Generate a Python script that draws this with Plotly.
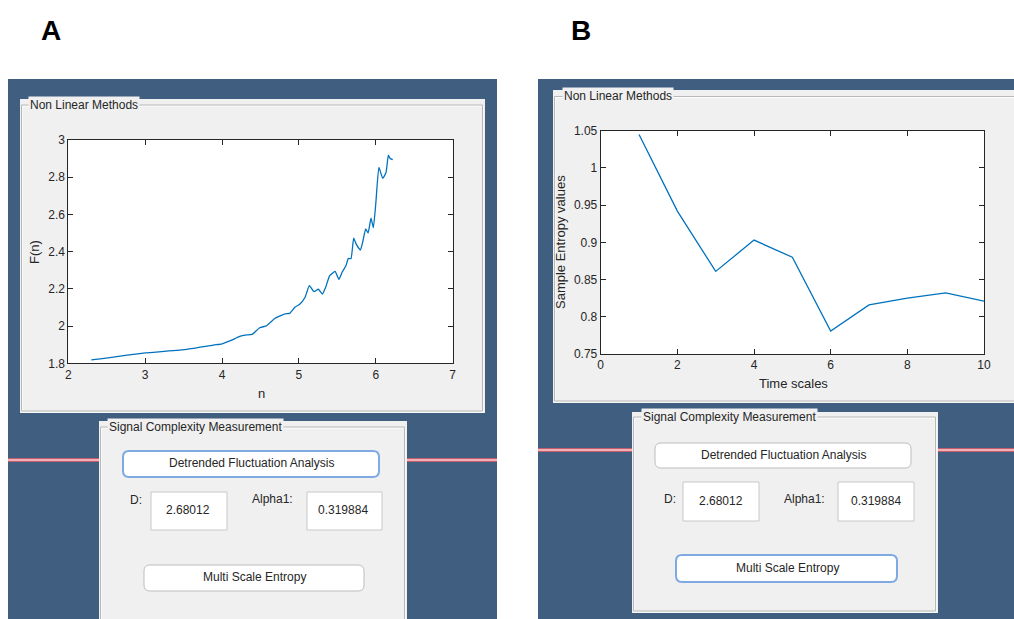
import plotly.graph_objects as go

W, H = 1014, 619

# ---------------- data ----------------
dfa_n = [2.30, 2.98, 3.54, 3.89, 4.00, 4.10, 4.23, 4.30, 4.39, 4.49, 4.58, 4.69,
         4.82, 4.88, 4.95, 5.01, 5.08, 5.135, 5.196, 5.252, 5.305, 5.35, 5.40,
         5.47, 5.52, 5.564, 5.61, 5.643, 5.677, 5.712, 5.75, 5.80, 5.83, 5.868,
         5.90, 5.937, 5.968, 6.00, 6.04, 6.09, 6.133, 6.163, 6.185, 6.22]
dfa_F = [1.818, 1.855, 1.875, 1.898, 1.905, 1.920, 1.945, 1.952, 1.955, 1.991,
         2.002, 2.042, 2.066, 2.068, 2.102, 2.117, 2.155, 2.217, 2.185, 2.198,
         2.172, 2.212, 2.271, 2.294, 2.251, 2.292, 2.323, 2.364, 2.362, 2.472,
         2.436, 2.409, 2.453, 2.522, 2.500, 2.580, 2.529, 2.660, 2.853, 2.794,
         2.825, 2.919, 2.901, 2.895]

mse_scale = [1, 2, 3, 4, 5, 6, 7, 8, 9, 10]
mse_value = [1.045, 0.942, 0.861, 0.903, 0.880, 0.781, 0.816, 0.825, 0.832, 0.821]

xticks_a = [2, 3, 4, 5, 6, 7]
yticks_a = [1.8, 2.0, 2.2, 2.4, 2.6, 2.8, 3.0]
yticklabels_a = ["1.8", "2", "2.2", "2.4", "2.6", "2.8", "3"]
xticks_b = [0, 2, 4, 6, 8, 10]
yticks_b = [0.75, 0.8, 0.85, 0.9, 0.95, 1.0, 1.05]
yticklabels_b = ["0.75", "0.8", "0.85", "0.9", "0.95", "1", "1.05"]

d_value = "2.68012"
alpha1_value = "0.319884"

FONT = "Liberation Sans, Arial, Helvetica, sans-serif"
TXT = "#262626"
DARK_BLUE = "#3f5e80"
PANEL = "#f0f0f0"
LINE_BLUE = "#0072BD"


def px(x):
    return x / W


def py(y):
    return 1 - y / H


shapes = []
annotations = []


def rect(x0, y0, x1, y1, fill=None, line=None, lw=1):
    shapes.append(dict(type="rect", xref="paper", yref="paper",
                       x0=px(x0), x1=px(x1), y0=py(y1), y1=py(y0),
                       fillcolor=fill if fill else "rgba(0,0,0,0)",
                       line=dict(color=line if line else "rgba(0,0,0,0)", width=lw if line else 0),
                       layer="below"))


def rrect(x0, y0, x1, y1, r, fill, line, lw):
    rx, ry = r / W, r / H
    X0, X1, Y0, Y1 = px(x0), px(x1), py(y1), py(y0)
    path = (f"M {X0+rx},{Y0} L {X1-rx},{Y0} Q {X1},{Y0} {X1},{Y0+ry} "
            f"L {X1},{Y1-ry} Q {X1},{Y1} {X1-rx},{Y1} L {X0+rx},{Y1} "
            f"Q {X0},{Y1} {X0},{Y1-ry} L {X0},{Y0+ry} Q {X0},{Y0} {X0+rx},{Y0} Z")
    shapes.append(dict(type="path", xref="paper", yref="paper", path=path,
                       fillcolor=fill, line=dict(color=line, width=lw), layer="below"))


def hline(x0, x1, y, color, lw):
    shapes.append(dict(type="line", xref="paper", yref="paper",
                       x0=px(x0), x1=px(x1), y0=py(y), y1=py(y),
                       line=dict(color=color, width=lw), layer="below"))


def text(x, y, s, size=12, xanchor="center", color=TXT, bg=None, angle=0, bold=False, family=FONT):
    annotations.append(dict(xref="paper", yref="paper", x=px(x), y=py(y), text=f"<b>{s}</b>" if bold else s,
                            showarrow=False, xanchor=xanchor, yanchor="middle",
                            font=dict(family=family, size=size, color=color),
                            bgcolor=bg, borderpad=1, textangle=angle))


def panel(x0, y0, x1, y1, ly0, title, tx):
    rect(x0, y0, x1, y1, fill=PANEL)
    rect(x0 + 2, ly0 + 1, x1 - 2, y1 - 1, line="#ffffff", lw=1)
    rect(x0 + 1.5, ly0, x1 - 2.5, y1 - 2, line="#b8b8b8", lw=1)
    text(tx, ly0, title, size=12, xanchor="left", bg=PANEL)


# ------------- background GUI -------------
rect(8, 79, 497, 619, fill=DARK_BLUE)
rect(538, 79, 1014, 619, fill=DARK_BLUE)

# red guide lines
hline(8, 497, 460, "#e8606a", 3.5)
hline(8, 497, 460, "#ffffff", 1)
hline(538, 1014, 450, "#e8606a", 3.5)
hline(538, 1014, 450, "#ffffff", 1)

# Non Linear Methods panels
panel(20, 99, 485, 413, 105, "Non Linear Methods", 28)
panel(553, 90, 1020, 403, 96.5, "Non Linear Methods", 562)

# Signal Complexity panels
panel(99, 421, 407, 625, 427, "Signal Complexity Measurement", 107)
panel(632, 412, 938, 613, 417, "Signal Complexity Measurement", 641)

# buttons and boxes - A
rrect(123, 451, 379, 477, 6, "#ffffff", "#7fa9e3", 2)
text(251, 463, "Detrended Fluctuation Analysis")
rrect(144, 565, 364, 591, 6, "#ffffff", "#bdbdbd", 1)
text(254, 577, "Multi Scale Entropy")
rect(151, 492, 227, 530, fill="#ffffff", line="#c8c8c8")
rect(307, 492, 382, 530, fill="#ffffff", line="#c8c8c8")
text(136, 500, "D:")
text(272, 499, "Alpha1:")
text(188, 510, d_value)
text(343, 510, alpha1_value)

# buttons and boxes - B
rrect(655, 443, 911, 468, 6, "#ffffff", "#bdbdbd", 1)
text(783, 455, "Detrended Fluctuation Analysis")
rrect(676, 555, 897, 582, 6, "#ffffff", "#7fa9e3", 2)
text(787, 568, "Multi Scale Entropy")
rect(683, 482, 759, 521, fill="#ffffff", line="#c8c8c8")
rect(838, 482, 914, 521, fill="#ffffff", line="#c8c8c8")
text(670, 499, "D:")
text(804, 499, "Alpha1:")
text(721, 501, d_value)
text(876, 501, alpha1_value)

# white plot areas
for ax in ("x", "x2"):
    yax = "y" if ax == "x" else "y2"
    shapes.append(dict(type="rect", xref=f"{ax} domain", yref=f"{yax} domain",
                       x0=0, x1=1, y0=0, y1=1, fillcolor="#ffffff",
                       line=dict(width=0), layer="below"))

# figure labels
text(51, 30, "A", size=28, bold=True, color="#000000")
text(581, 30, "B", size=28, bold=True, color="#000000")

# axis titles
text(261, 393, "n", size=13)
text(34, 252, "F(n)", size=13, angle=-90)
text(793, 383, "Time scales", size=13)
text(560, 242, "Sample Entropy values", size=13, angle=-90)

# ------------- traces -------------
fig = go.Figure()
fig.add_trace(go.Scatter(x=dfa_n, y=dfa_F, mode="lines", line=dict(color=LINE_BLUE, width=1.3, shape="spline", smoothing=0.4),
                         xaxis="x", yaxis="y", showlegend=False, hoverinfo="x+y"))
fig.add_trace(go.Scatter(x=mse_scale, y=mse_value, mode="lines", line=dict(color=LINE_BLUE, width=1.3),
                         xaxis="x2", yaxis="y2", showlegend=False, hoverinfo="x+y"))

axis_common = dict(showgrid=False, zeroline=False, showline=True, linecolor=TXT, linewidth=1,
                   mirror="ticks", ticks="inside", ticklen=5, tickcolor=TXT, tickwidth=1,
                   tickfont=dict(family=FONT, size=12, color=TXT), fixedrange=True,
                   automargin=False)

fig.update_layout(
    template="none",
    width=W, height=H, autosize=False,
    margin=dict(l=0, r=0, t=0, b=0, pad=0, autoexpand=False),
    paper_bgcolor="#ffffff", plot_bgcolor="#ffffff",
    showlegend=False,
    xaxis=dict(domain=[px(68.3), px(452.7)], range=[2, 7], tickvals=xticks_a,
               ticktext=[str(v) for v in xticks_a], anchor="y", **axis_common),
    yaxis=dict(domain=[py(363.3), py(140)], range=[1.8, 3.0], tickvals=yticks_a,
               ticktext=yticklabels_a, anchor="x", **axis_common),
    xaxis2=dict(domain=[px(600.7), px(984)], range=[0, 10], tickvals=xticks_b,
                ticktext=[str(v) for v in xticks_b], anchor="y2", **axis_common),
    yaxis2=dict(domain=[py(354), py(130.7)], range=[0.75, 1.05], tickvals=yticks_b,
                ticktext=yticklabels_b, anchor="x2", **axis_common),
    shapes=shapes,
    annotations=annotations,
)

fig.write_html(
    "out.html",
    config={"displayModeBar": False},
    post_script=("document.documentElement.style.margin='0px';"
                 "document.documentElement.style.padding='0px';"
                 "document.documentElement.style.overflow='hidden';"
                 "document.body.style.margin='0px';"
                 "document.body.style.padding='0px';"
                 "document.body.style.overflow='hidden';"
                 "var gd=document.getElementById('{plot_id}');"
                 "gd.style.position='fixed';gd.style.left='0px';gd.style.top='0px';"),
)
